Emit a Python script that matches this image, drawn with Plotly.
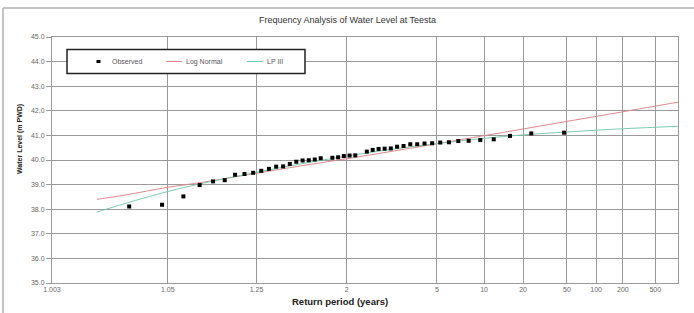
from statistics import NormalDist
import plotly.graph_objects as go

# ---------------- data ----------------
observed_T = [1.0217, 1.0444, 1.0682, 1.0930, 1.1190, 1.1463, 1.175, 1.2051, 1.2368,
              1.2703, 1.3056, 1.3429, 1.3824, 1.4242, 1.4688, 1.5161, 1.5667, 1.6207,
              1.6786, 1.8077, 1.88, 1.9583, 2.0435, 2.1364, 2.35, 2.4737, 2.6111,
              2.7647, 2.9375, 3.1333, 3.3571, 3.6154, 3.9167, 4.2727, 4.7, 5.2222,
              5.875, 6.7143, 7.8333, 9.4, 11.75, 15.667, 23.5, 47.0]
observed_level = [38.11, 38.18, 38.52, 38.98, 39.13, 39.18, 39.40, 39.43, 39.48,
                  39.56, 39.64, 39.73, 39.74, 39.84, 39.93, 39.98, 39.99, 40.02,
                  40.07, 40.09, 40.11, 40.16, 40.18, 40.19, 40.34, 40.41, 40.45,
                  40.46, 40.47, 40.54, 40.57, 40.64, 40.64, 40.67, 40.68, 40.71,
                  40.72, 40.77, 40.78, 40.81, 40.84, 40.98, 41.08, 41.11]

curve_T = [1.01, 1.02, 1.05, 1.1, 1.25, 1.5, 2, 3, 5, 10, 20, 50, 100, 200, 500, 1000]
lognormal_level = [38.40, 38.58, 38.89, 39.10, 39.46, 39.76, 40.05, 40.36, 40.66,
                   40.99, 41.26, 41.57, 41.77, 41.96, 42.19, 42.35]
lp3_level = [37.88, 38.24, 38.72, 39.06, 39.50, 39.84, 40.16, 40.44, 40.67,
             40.88, 41.02, 41.14, 41.21, 41.27, 41.33, 41.37]

tick_T = [1.003, 1.05, 1.25, 2, 5, 10, 20, 50, 100, 200, 500]
tick_text = ["1.003", "1.05", "1.25", "2", "5", "10", "20", "50", "100", "200", "500"]
x_range_T = [1.003, 1000]
y_ticks = [35, 36, 37, 38, 39, 40, 41, 42, 43, 44, 45]
series_names = ["Observed", "Log Normal", "LP III"]
series_colors = ["black", "#dc8a8a", "#7ccbb0"]

# normal-probability scale for return periods
nd = NormalDist()
def zscale(T):
    return nd.inv_cdf(1 - 1 / T)

fig = go.Figure()
fig.add_trace(go.Scatter(
    x=[zscale(t) for t in curve_T], y=lognormal_level, mode="lines",
    name=series_names[1], showlegend=False,
    line=dict(color=series_colors[1], width=1, shape="spline")))
fig.add_trace(go.Scatter(
    x=[zscale(t) for t in curve_T], y=lp3_level, mode="lines",
    name=series_names[2], showlegend=False,
    line=dict(color=series_colors[2], width=1, shape="spline")))
fig.add_trace(go.Scatter(
    x=[zscale(t) for t in observed_T], y=observed_level, mode="markers",
    name=series_names[0], showlegend=False,
    marker=dict(symbol="square", size=4, color=series_colors[0], line=dict(width=0))))

W, H = 694, 313
L, R, T_, B = 52, 16, 37, 30
pw, ph = W - L - R, H - T_ - B
def px(xp):
    return (xp - L) / pw
def py(yp):
    return (H - B - yp) / ph

font_main = "Liberation Sans, Arial, sans-serif"

# legend drawn as a boxed key
leg_shapes = [
    dict(type="rect", xref="paper", yref="paper", x0=px(67), x1=px(305),
         y0=py(49.5), y1=py(73.5), fillcolor="white", line=dict(color="#222", width=1.5),
         layer="above"),
    dict(type="rect", xref="paper", yref="paper", x0=px(96.5), x1=px(100.5),
         y0=py(60), y1=py(63), fillcolor=series_colors[0], line=dict(width=0),
         layer="above"),
    dict(type="line", xref="paper", yref="paper", x0=px(166), x1=px(182),
         y0=py(61.5), y1=py(61.5), line=dict(color=series_colors[1], width=1),
         layer="above"),
    dict(type="line", xref="paper", yref="paper", x0=px(247), x1=px(263),
         y0=py(61.5), y1=py(61.5), line=dict(color=series_colors[2], width=1),
         layer="above"),
]
leg_ann = [
    dict(text=series_names[0], xref="paper", yref="paper", x=px(110), y=py(61.5),
         xanchor="left", yanchor="middle", showarrow=False,
         font=dict(size=7, color="#555")),
    dict(text=series_names[1], xref="paper", yref="paper", x=px(184), y=py(61.5),
         xanchor="left", yanchor="middle", showarrow=False,
         font=dict(size=7, color="#555")),
    dict(text=series_names[2], xref="paper", yref="paper", x=px(265), y=py(61.5),
         xanchor="left", yanchor="middle", showarrow=False,
         font=dict(size=7, color="#555")),
]

fig.update_layout(
    width=W, height=H,
    margin=dict(l=L, r=R, t=T_, b=B),
    paper_bgcolor="white", plot_bgcolor="white",
    font=dict(family=font_main, color="#444"),
    showlegend=False,
    xaxis=dict(range=[zscale(x_range_T[0]), zscale(x_range_T[1])],
               tickmode="array", tickvals=[zscale(t) for t in tick_T],
               ticktext=tick_text, showgrid=True, gridcolor="#9a9a9a", gridwidth=1,
               zeroline=False, showline=True, linecolor="#9a9a9a", mirror=True,
               ticks="", tickfont=dict(size=7, color="#666"), ticklabelstandoff=0,
               fixedrange=True),
    yaxis=dict(range=[35, 45], tickmode="array", tickvals=y_ticks,
               ticktext=[f"{v:.1f}" for v in y_ticks],
               showgrid=True, gridcolor="#9a9a9a", gridwidth=1, zeroline=False,
               showline=True, linecolor="#9a9a9a", mirror=True,
               ticks="outside", ticklen=5, tickcolor="#9a9a9a",
               tickfont=dict(size=7, color="#666"), fixedrange=True),
    annotations=[
        dict(text="Frequency Analysis of Water Level at Teesta", xref="paper", yref="paper",
             x=px(347), y=py(20), showarrow=False, xanchor="center", yanchor="middle",
             font=dict(size=9, color="#333")),
        dict(text="<b>Return period (years)</b>", xref="paper", yref="paper",
             x=px(340), y=py(301), showarrow=False, xanchor="center", yanchor="middle",
             font=dict(size=9.5, color="#222")),
        dict(text="<b>Water Level (m PWD)</b>", xref="paper", yref="paper",
             x=px(20), y=py(139), showarrow=False, xanchor="center", yanchor="middle",
             textangle=-90,
             font=dict(size=7, color="#222", family="Liberation Sans, Arial")),
    ] + leg_ann,
    shapes=[
        dict(type="line", xref="paper", yref="paper", x0=px(3), x1=px(3),
             y0=py(8), y1=py(H + 5), line=dict(color="#b0b0b0", width=1.5)),
        dict(type="line", xref="paper", yref="paper", x0=px(3), x1=px(W + 5),
             y0=py(8), y1=py(8), line=dict(color="#b0b0b0", width=1.5)),
    ] + leg_shapes,
)

fig.write_html("out.html", config={"displayModeBar": False},
               post_script="document.body.style.margin='0';document.body.style.overflow='hidden';")
